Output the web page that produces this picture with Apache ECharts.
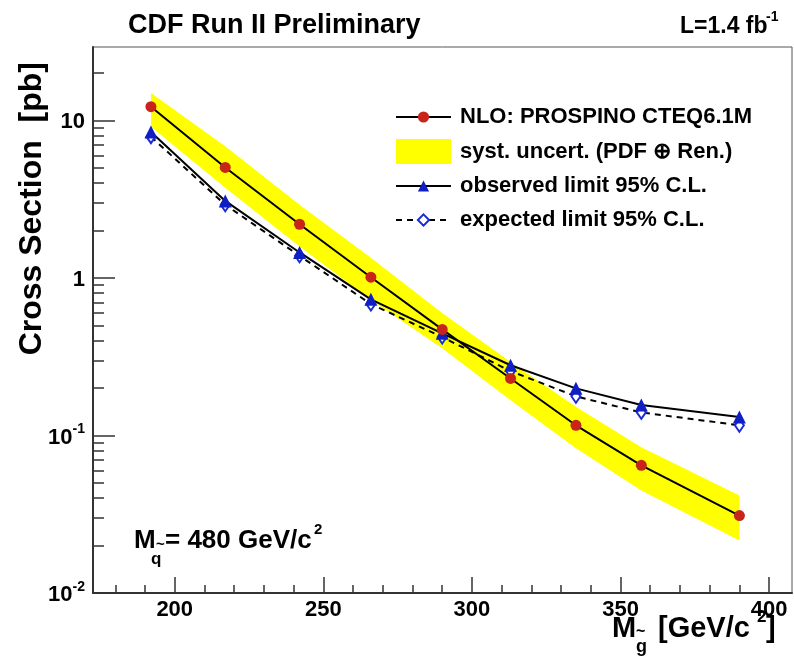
<!DOCTYPE html>
<html>
<head>
<meta charset="utf-8">
<script src="https://cdn.jsdelivr.net/npm/echarts@6/dist/echarts.min.js"></script>
<style>
  html, body { margin: 0; padding: 0; background: #fff; }
  #chart { width: 794px; height: 658px; }
</style>
</head>
<body>
<div id="chart"></div>
<script>
// Gluino mass points [GeV/c^2]
const gluinoMass = [192, 217, 242, 266, 290, 313, 335, 357, 390];
// NLO cross section (PROSPINO, CTEQ6.1M) [pb] with its systematic band
const nloXsec  = [12.2, 5.02, 2.19, 1.01, 0.471, 0.230, 0.116, 0.0646, 0.0310];
const nloUpper = [14.9, 6.84, 2.91, 1.34, 0.598, 0.293, 0.152, 0.0843, 0.0416];
const nloLower = [9.12, 3.73, 1.58, 0.723, 0.358, 0.167, 0.0828, 0.0448, 0.0215];
// 95% C.L. limits [pb]
const observedLimit = [8.44, 3.08, 1.45, 0.731, 0.445, 0.279, 0.199, 0.156, 0.131];
const expectedLimit = [7.87, 2.91, 1.38, 0.682, 0.421, 0.256, 0.177, 0.140, 0.116];

// Axis ticks
const xMajorTicks = [200, 250, 300, 350, 400];
const xMinorTicks = [180, 190, 210, 220, 230, 240, 260, 270, 280, 290, 310, 320, 330, 340, 360, 370, 380, 390];
const yMajorTicks = [0.01, 0.1, 1, 10];
const yMajorLabels = [['10', '-2'], ['10', '-1'], ['1', ''], ['10', '']];
const yMinorTicks = [0.02, 0.03, 0.04, 0.05, 0.06, 0.07, 0.08, 0.09,
                     0.2, 0.3, 0.4, 0.5, 0.6, 0.7, 0.8, 0.9,
                     2, 3, 4, 5, 6, 7, 8, 9, 20];

const seriesNames = {
  nlo: 'NLO: PROSPINO CTEQ6.1M',
  band: 'syst. uncert. (PDF \u2295 Ren.)',
  obs: 'observed limit 95% C.L.',
  exp: 'expected limit 95% C.L.'
};

const FONT = '"Liberation Sans", Arial, Helvetica, sans-serif';
const AXIS_COLOR = '#333';
const X_RANGE = [172.5, 407.7];
const Y_RANGE = [0.01, 29.2];

const chart = echarts.init(document.getElementById('chart'), null, { renderer: 'canvas' });

function yLabel(value) {
  let best = 0;
  for (let i = 1; i < yMajorTicks.length; i++) {
    if (Math.abs(Math.log10(yMajorTicks[i]) - Math.log10(value)) <
        Math.abs(Math.log10(yMajorTicks[best]) - Math.log10(value))) best = i;
  }
  const [base, exp] = yMajorLabels[best];
  return exp ? '{b|' + base + '}{s|' + exp + '}' : '{b|' + base + '}';
}

const boldText = (size) => ({ fontFamily: FONT, fontWeight: 'bold', fontSize: size, color: '#000' });
const legendText = () => Object.assign(boldText(22), { padding: [0, 0, 0, 4] });

const option = {
  animation: false,
  backgroundColor: '#fff',
  grid: {
    left: 93, top: 47, right: 2, bottom: 65,
    show: true, borderColor: '#555', borderWidth: 1, backgroundColor: 'transparent'
  },
  legend: [
    {
      data: [seriesNames.nlo], left: 395, top: 106, padding: 0, itemWidth: 55, itemHeight: 14,
      textStyle: legendText(), selectedMode: false
    },
    {
      data: [{ name: seriesNames.band, icon: 'rect' }], left: 396, top: 139, padding: 0, itemWidth: 55, itemHeight: 25,
      textStyle: legendText(), selectedMode: false
    },
    {
      data: [seriesNames.obs, seriesNames.exp], left: 395, top: 175, padding: 0, orient: 'vertical',
      itemWidth: 55, itemHeight: 14, itemGap: 12,
      textStyle: legendText(), selectedMode: false
    }
  ],
  xAxis: [
    {
      type: 'value', min: X_RANGE[0], max: X_RANGE[1], position: 'bottom',
      splitLine: { show: false },
      axisLine: { lineStyle: { color: AXIS_COLOR, width: 2 } },
      axisTick: { inside: true, length: 16, customValues: xMajorTicks, lineStyle: { color: AXIS_COLOR, width: 1.5 } },
      axisLabel: Object.assign(boldText(22), { customValues: xMajorTicks, margin: 6 })
    },
    {
      type: 'value', min: X_RANGE[0], max: X_RANGE[1], position: 'bottom',
      splitLine: { show: false },
      axisLine: { show: false },
      axisTick: { inside: true, length: 8, customValues: xMinorTicks, lineStyle: { color: AXIS_COLOR, width: 1.5 } },
      axisLabel: { show: false }
    }
  ],
  yAxis: [
    {
      type: 'log', logBase: 10, min: Y_RANGE[0], max: Y_RANGE[1], position: 'left',
      splitLine: { show: false },
      axisLine: { show: true, lineStyle: { color: AXIS_COLOR, width: 2 } },
      axisTick: { show: true, inside: true, length: 22, customValues: yMajorTicks, lineStyle: { color: AXIS_COLOR, width: 1.5 } },
      axisLabel: {
        customValues: yMajorTicks, margin: 8, formatter: yLabel,
        rich: {
          b: Object.assign(boldText(22), { lineHeight: 26, verticalAlign: 'bottom' }),
          s: Object.assign(boldText(14), { lineHeight: 14, verticalAlign: 'top' })
        }
      }
    },
    {
      type: 'log', logBase: 10, min: Y_RANGE[0], max: Y_RANGE[1], position: 'left',
      splitLine: { show: false },
      axisLine: { show: false },
      axisTick: { show: true, inside: true, length: 11, customValues: yMinorTicks, lineStyle: { color: AXIS_COLOR, width: 1.5 } },
      axisLabel: { show: false }
    }
  ],
  series: [
    {
      name: seriesNames.band,
      type: 'custom',
      xAxisIndex: 0, yAxisIndex: 0,
      itemStyle: { color: '#ffff00' },
      data: gluinoMass.map((m, i) => [m, nloLower[i], nloUpper[i]]),
      encode: { x: 0, y: [1, 2] },
      renderItem: function (params, api) {
        if (params.dataIndex !== 0) return null;
        const pts = [];
        for (let i = 0; i < gluinoMass.length; i++) pts.push(api.coord([gluinoMass[i], nloUpper[i]]));
        for (let i = gluinoMass.length - 1; i >= 0; i--) pts.push(api.coord([gluinoMass[i], nloLower[i]]));
        return { type: 'polygon', shape: { points: pts }, style: { fill: '#ffff00' } };
      },
      z: 1
    },
    {
      name: seriesNames.exp,
      type: 'line',
      data: gluinoMass.map((m, i) => [m, expectedLimit[i]]),
      symbol: 'emptyDiamond', symbolSize: [9, 13],
      itemStyle: { color: '#1a2ad6', borderWidth: 1.5 },
      lineStyle: { color: '#000', width: 2, type: [6, 5] },
      z: 3
    },
    {
      name: seriesNames.obs,
      type: 'line',
      data: gluinoMass.map((m, i) => [m, observedLimit[i]]),
      symbol: 'triangle', symbolSize: 13,
      itemStyle: { color: '#0f1fc4' },
      lineStyle: { color: '#000', width: 2 },
      z: 4
    },
    {
      name: seriesNames.nlo,
      type: 'line',
      data: gluinoMass.map((m, i) => [m, nloXsec[i]]),
      symbol: 'circle', symbolSize: 11,
      itemStyle: { color: '#c8241a' },
      lineStyle: { color: '#000', width: 2 },
      z: 5
    }
  ],
  graphic: [
    // header
    { type: 'text', left: 128, top: 12, style: Object.assign({ text: 'CDF Run II Preliminary' }, boldText(27), { fill: '#000' }) },
    { type: 'text', left: 680, top: 15, style: { text: 'L=1.4 fb', font: 'bold 23px ' + FONT, fill: '#000' } },
    { type: 'text', left: 766, top: 10, style: { text: '-1', font: 'bold 14px ' + FONT, fill: '#000' } },
    // y-axis title
    {
      type: 'text', x: 16, y: 62, rotation: Math.PI / 2,
      style: { text: 'Cross Section  [pb]', font: 'bold 32px ' + FONT, fill: '#000', align: 'right', verticalAlign: 'top' }
    },
    // x-axis title
    { type: 'text', left: 612, top: 614, style: { text: 'M', font: 'bold 29px ' + FONT, fill: '#000' } },
    { type: 'text', left: 636, top: 624, style: { text: '~', font: 'bold 16px ' + FONT, fill: '#000' } },
    { type: 'text', left: 636, top: 638, style: { text: 'g', font: 'bold 18px ' + FONT, fill: '#000' } },
    { type: 'text', left: 658, top: 614, style: { text: '[GeV/c', font: 'bold 29px ' + FONT, fill: '#000' } },
    { type: 'text', left: 757, top: 609, style: { text: '2', font: 'bold 17px ' + FONT, fill: '#000' } },
    { type: 'text', left: 766, top: 614, style: { text: ']', font: 'bold 29px ' + FONT, fill: '#000' } },
    // squark mass annotation
    { type: 'text', left: 134, top: 528, style: { text: 'M', font: 'bold 26px ' + FONT, fill: '#000' } },
    { type: 'text', left: 156, top: 537, style: { text: '~', font: 'bold 15px ' + FONT, fill: '#000' } },
    { type: 'text', left: 151, top: 551, style: { text: 'q', font: 'bold 17px ' + FONT, fill: '#000' } },
    { type: 'text', left: 165, top: 528, style: { text: '= 480 GeV/c', font: 'bold 26px ' + FONT, fill: '#000' } },
    { type: 'text', left: 314, top: 522, style: { text: '2', font: 'bold 15px ' + FONT, fill: '#000' } }
  ]
};

chart.setOption(option);
</script>
</body>
</html>
